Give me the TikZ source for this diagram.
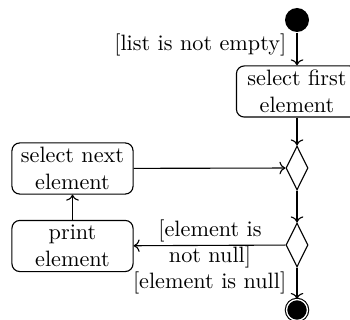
\documentclass[tikz,border=0pt]{standalone}
\usetikzlibrary{shapes.geometric,arrows.meta}
\begin{document}
\begin{tikzpicture}[x=0.45pt,y=-0.45pt,line width=0.5pt,
  act/.style={draw,rounded corners=3.5pt,align=center,text width=50pt,minimum width=54.5pt,minimum height=23pt,inner sep=1pt},
  dec/.style={draw,shape=diamond,minimum width=9.9pt,minimum height=19.8pt,inner sep=0pt},
  startst/.style={circle,fill=black,minimum size=10.8pt,inner sep=0pt},
  endst/.style={circle,draw,double,double distance=0.6pt,fill=black,minimum size=9.4pt,inner sep=0pt},
  flow/.style={->},
  lbl/.style={inner sep=1pt,align=center}]
\clip (0,0) rectangle (350,320);
\node[startst] (start) at (297,20) {};
\node[act] (first) at (297,91.5) {select first\\element};
\node[dec] (d1) at (297,168) {};
\node[dec] (d2) at (297,245) {};
\node[endst] (end) at (297,310) {};
\node[act] (next) at (72.5,168.5) {select next\\element};
\node[act] (print) at (72.5,246) {print\\element};
\draw[flow] (start) -- (first);
\node[lbl,anchor=east] (l1) at (289,45) {[list is not empty]};
\draw[flow] (first) -- (d1);
\draw[flow] (d1) -- (d2);
\draw[flow] (next) -- (d1);
\draw[flow] (print) -- (next);
\draw[flow] (d2) -- (print);
\node[lbl] (l2) at (210,244) {[element is\\not null]};
\draw[flow] (d2) -- (end);
\node[lbl,anchor=east] (l3) at (289,283) {[element is null]};
\end{tikzpicture}
\end{document}
